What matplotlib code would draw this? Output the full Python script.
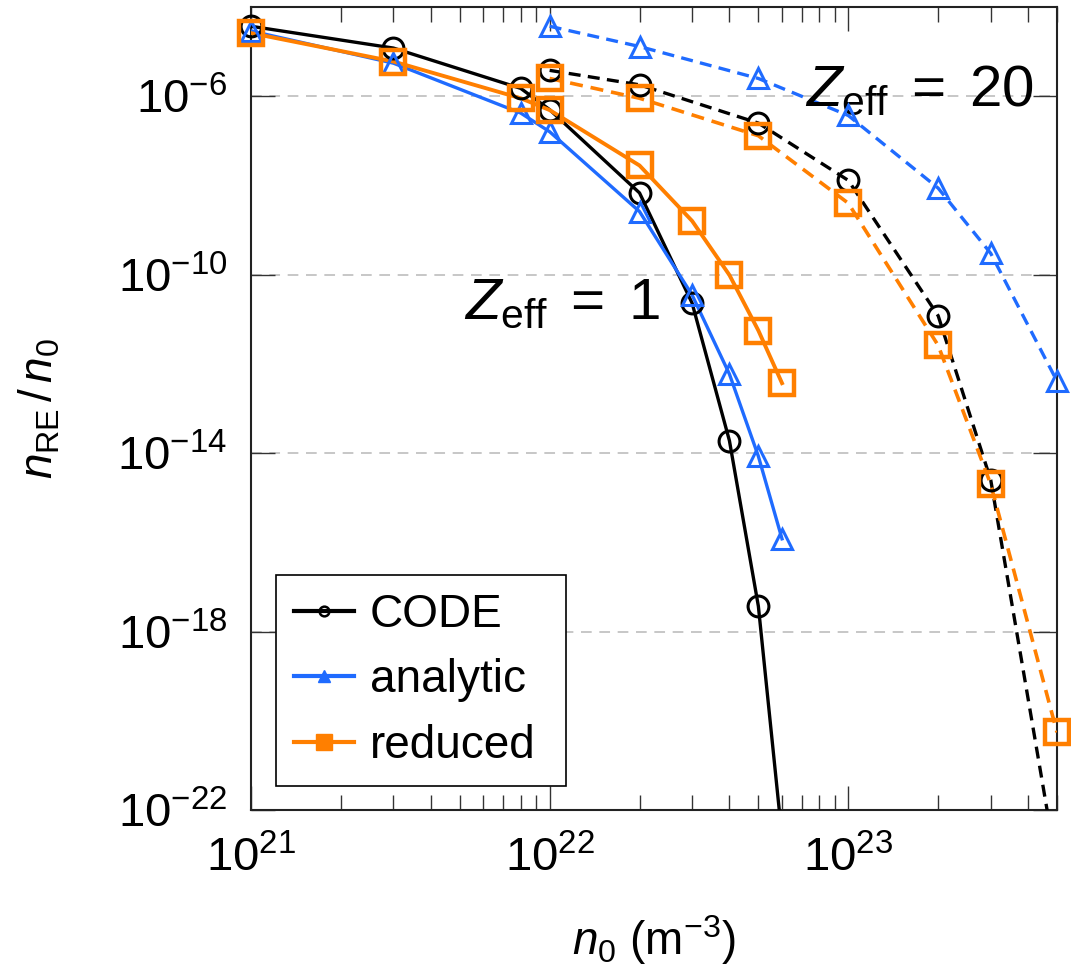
import numpy as np
import matplotlib
matplotlib.use("Agg")
import matplotlib.pyplot as plt
from matplotlib.lines import Line2D

plt.rcParams['font.family'] = ['Liberation Sans', 'DejaVu Sans']
plt.rcParams['mathtext.fontset'] = 'custom'
plt.rcParams['mathtext.rm'] = 'Liberation Sans'
plt.rcParams['mathtext.it'] = 'Liberation Sans:italic'
plt.rcParams['mathtext.sf'] = 'Liberation Sans'

# --- data ---
n0_z1 = [1e21, 3e21, 8e21, 1e22, 2e22, 3e22, 4e22, 5e22, 6e22]
code_z1 = [3.7e-5, 1.2e-5, 1.5e-6, 5e-7, 6.8e-9, 2.3e-11, 1.9e-14, 3.7e-18, 2.5e-23]
analytic_z1 = [2.9e-5, 5.5e-6, 4.2e-7, 1.6e-7, 2.6e-9, 3.5e-11, 5.9e-13, 8.5e-15, 1.2e-16]
reduced_z1 = [2.6e-5, 6e-6, 9e-7, 4.9e-7, 2.8e-8, 1.6e-9, 9.8e-11, 5.6e-12, 3.7e-13]

n0_z20 = [1e22, 2e22, 5e22, 1e23, 2e23, 3e23, 5e23]
code_z20 = [3.8e-6, 1.8e-6, 2.5e-7, 1.3e-8, 1.2e-11, 2.5e-15, 5e-24]
analytic_z20 = [3.7e-5, 1.3e-5, 2.5e-6, 3.7e-7, 8.7e-9, 3e-10, 4.1e-13]
reduced_z20 = [2.5e-6, 9e-7, 1.3e-7, 4e-9, 2.6e-12, 2e-15, 5.5e-21]

labels = ['CODE', 'analytic', 'reduced']
colors = ['black', '#1f6bff', '#ff7f00']

YMIN, YMAX = 1e-22, 1e-4
XMIN, XMAX = 1e21, 5e23

fig = plt.figure(figsize=(10.71, 9.69), dpi=100)
ax = fig.add_axes([251 / 1071, 1 - 810 / 969, 806 / 1071, 803 / 969])


def draw(x, y, color, ls, marker, ms, mew, lw):
    x = np.array(x)
    y = np.array(y)
    ax.plot(x, y, color=color, ls=ls, lw=lw, zorder=3)
    # markers are not clipped at the frame, only points inside the range
    ok = (y >= YMIN) & (y <= YMAX)
    ax.plot(x[ok], y[ok], ls='none', marker=marker, ms=ms, mew=mew,
            mfc='none', mec=color, clip_on=False, zorder=4)


dash = (0, (3.6, 2.2))
draw(n0_z1, code_z1, colors[0], '-', 'o', 15, 2.2, 2.4)
draw(n0_z1, analytic_z1, colors[1], '-', '^', 15, 2.2, 2.4)
draw(n0_z1, reduced_z1, colors[2], '-', 's', 17, 3.2, 2.8)
draw(n0_z20, code_z20, colors[0], dash, 'o', 15, 2.2, 2.4)
draw(n0_z20, analytic_z20, colors[1], dash, '^', 15, 2.2, 2.4)
draw(n0_z20, reduced_z20, colors[2], dash, 's', 17, 3.2, 2.6)

ax.set_xscale('log')
ax.set_yscale('log')
ax.set_xlim(XMIN, XMAX)
ax.set_ylim(YMIN, YMAX)

ax.set_yticks([1e-22, 1e-18, 1e-14, 1e-10, 1e-6])
ax.yaxis.set_minor_locator(matplotlib.ticker.NullLocator())
ax.set_xticks([1e21, 1e22, 1e23])
ax.xaxis.set_minor_locator(matplotlib.ticker.LogLocator(base=10, subs=np.arange(2, 10)))
ax.xaxis.set_minor_formatter(matplotlib.ticker.NullFormatter())

ax.grid(axis='y', which='major', color='#b8b8b8', ls=(0, (7, 5)), lw=1.1)
ax.tick_params(which='both', direction='in', top=True, right=True,
               width=1.0, color='#333333', labelsize=34)
ax.tick_params(which='major', length=17)
ax.tick_params(axis='x', which='major', pad=19)
ax.tick_params(axis='y', which='major', pad=17)
ax.tick_params(which='minor', length=11)
for s in ax.spines.values():
    s.set_linewidth(1.5)
    s.set_color('#222222')

ax.set_xlabel(r'$n_0$ (m$^{-3}$)', fontsize=33, va='baseline')
ax.xaxis.set_label_coords(0.5, -0.181)
ax.set_ylabel(r'$n_{\rm RE}\,/\,n_0$', fontsize=33)
ax.yaxis.set_label_coords(-0.234, 0.5)

ax.text(1.1e22, 1e-11, r'$Z_{\rm eff}\;=\;1$', fontsize=42, ha='center', va='baseline')
ax.text(1.73e23, 6e-7, r'$Z_{\rm eff}\;=\;20$', fontsize=42, ha='center', va='baseline')

handles = [
    Line2D([], [], color=colors[0], lw=3, marker='o', ms=7, mfc='none', mew=1.8),
    Line2D([], [], color=colors[1], lw=3, marker='^', ms=8, mfc=colors[1]),
    Line2D([], [], color=colors[2], lw=3, marker='s', ms=11, mfc=colors[2]),
]
leg = ax.legend(handles, labels, loc='lower left', fontsize=33, frameon=True,
                bbox_to_anchor=(0.031, 0.030, 0.36, 0.26), mode='expand',
                fancybox=False, framealpha=1, edgecolor='black',
                handlelength=1.3, handletextpad=0.35, labelspacing=0.46,
                borderpad=0.4, borderaxespad=0)
leg.get_frame().set_linewidth(1.2)

fig.savefig('out.png', dpi=100)
